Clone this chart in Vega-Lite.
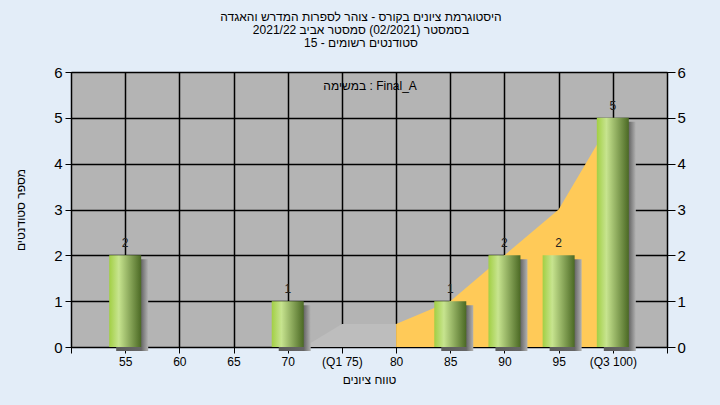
{
  "$schema": "https://vega.github.io/schema/vega-lite/v6.json",
  "width": 596,
  "height": 275,
  "autosize": {"type": "none"},
  "padding": {"left": 71, "top": 72, "right": 53, "bottom": 58},
  "background": "#e3edf8",
  "config": {
    "font": "Liberation Sans",
    "view": {"fill": "#b4b4b4", "stroke": "#000000", "strokeWidth": 1}
  },
  "title": {
    "text": ["היסטוגרמת ציונים בקורס - צוהר לספרות המדרש והאגדה", "בסמסטר  (02/2021)  סמסטר אביב 2021/22", "סטודנטים רשומים - 15"],
    "fontSize": 12,
    "fontWeight": "normal",
    "color": "#000000",
    "lineHeight": 13,
    "anchor": "middle",
    "dx": -8,
    "offset": 15
  },
  "datasets": {
    "bars": [
      {"score": 55, "count": 2},
      {"score": 70, "count": 1},
      {"score": 85, "count": 1},
      {"score": 90, "count": 2},
      {"score": 95, "count": 2},
      {"score": 100, "count": 5}
    ],
    "upper": [
      {"score": 80, "v": 0.5},
      {"score": 85, "v": 1},
      {"score": 90, "v": 2},
      {"score": 95, "v": 3},
      {"score": 100, "v": 5}
    ],
    "lower": [
      {"score": 71.5, "v": 0},
      {"score": 75, "v": 0.5},
      {"score": 80, "v": 0.5}
    ],
    "note": [{"score": 77.6, "v": 5.69, "label": "במשימה : Final_A"}]
  },
  "resolve": {"scale": {"y": "independent"}, "axis": {"y": "independent"}},
  "layer": [
    {
      "data": {"name": "lower"},
      "mark": {"type": "area", "color": "#bdbdbd", "opacity": 1},
      "encoding": {
        "x": {
          "field": "score", "type": "quantitative",
          "scale": {"domain": [50, 105], "nice": false, "zero": false, "padding": 0},
          "axis": {
            "values": [50, 55, 60, 65, 70, 75, 80, 85, 90, 95, 100, 105],
            "labelExpr": "datum.value == 50 || datum.value == 105 ? '' : datum.value == 75 ? '(Q1 75)' : datum.value == 100 ? '(Q3 100)' : datum.label",
            "grid": true, "gridColor": "#000000", "gridOpacity": 1, "gridWidth": 1.5,
            "domainColor": "#000000", "tickColor": "#000000", "tickSize": 6,
            "labelFontSize": 12, "labelColor": "#000000", "labelPadding": 3,
            "title": "טווח ציונים", "titleFontSize": 12, "titleFontWeight": "normal",
            "titleColor": "#000000", "titlePadding": 7
          }
        },
        "y": {
          "field": "v", "type": "quantitative",
          "scale": {"domain": [0, 6], "nice": false},
          "axis": {
            "orient": "left",
            "values": [0, 1, 2, 3, 4, 5, 6],
            "grid": true, "gridColor": "#000000", "gridOpacity": 1, "gridWidth": 1.5,
            "domainColor": "#000000", "tickColor": "#000000", "tickSize": 6,
            "labelFontSize": 15, "labelColor": "#000000", "labelPadding": 3,
            "title": "מספר סטודנטים", "titleFontSize": 12, "titleFontWeight": "normal",
            "titleColor": "#000000", "titlePadding": 26
          }
        }
      }
    },
    {
      "data": {"name": "upper"},
      "mark": {"type": "area", "color": "#ffca58", "opacity": 1},
      "encoding": {
        "x": {"field": "score", "type": "quantitative"},
        "y": {"field": "v", "type": "quantitative", "scale": {"domain": [0, 6], "nice": false}, "axis": null}
      }
    },
    {
      "data": {"name": "bars"},
      "mark": {
        "type": "bar", "size": 32, "xOffset": 7, "yOffset": 4, "clip": false,
        "fill": {"gradient": "linear", "x1": 0, "y1": 0, "x2": 1, "y2": 0,
          "stops": [{"offset": 0, "color": "#5c5c5c"}, {"offset": 0.78, "color": "#666666"}, {"offset": 1, "color": "#b2b2b2"}]}
      },
      "encoding": {
        "x": {"field": "score", "type": "quantitative"},
        "y": {"field": "count", "type": "quantitative", "scale": {"domain": [0, 6], "nice": false}, "axis": null}
      }
    },
    {
      "data": {"name": "bars"},
      "mark": {
        "type": "bar", "size": 32,
        "fill": {"gradient": "linear", "x1": 0, "y1": 0, "x2": 1, "y2": 0,
          "stops": [{"offset": 0, "color": "#a2cf44"}, {"offset": 0.3, "color": "#c7e48f"}, {"offset": 1, "color": "#4b6924"}]}
      },
      "encoding": {
        "x": {"field": "score", "type": "quantitative"},
        "y": {"field": "count", "type": "quantitative", "scale": {"domain": [0, 6], "nice": false}, "axis": null}
      }
    },
    {
      "data": {"name": "bars"},
      "mark": {"type": "text", "baseline": "bottom", "dy": -5, "fontSize": 12, "color": "#222222"},
      "encoding": {
        "x": {"field": "score", "type": "quantitative"},
        "y": {
          "field": "count", "type": "quantitative",
          "scale": {"domain": [0, 6], "nice": false},
          "axis": {
            "orient": "right",
            "values": [0, 1, 2, 3, 4, 5, 6],
            "grid": false,
            "domainColor": "#000000", "tickColor": "#000000", "tickSize": 8,
            "labelFontSize": 15, "labelColor": "#000000", "labelPadding": 2,
            "title": null
          }
        },
        "text": {"field": "count", "type": "quantitative"}
      }
    },
    {
      "data": {"name": "note"},
      "mark": {"type": "text", "fontSize": 12, "color": "#000000"},
      "encoding": {
        "x": {"field": "score", "type": "quantitative"},
        "y": {"field": "v", "type": "quantitative", "scale": {"domain": [0, 6], "nice": false}, "axis": null},
        "text": {"field": "label"}
      }
    }
  ]
}
